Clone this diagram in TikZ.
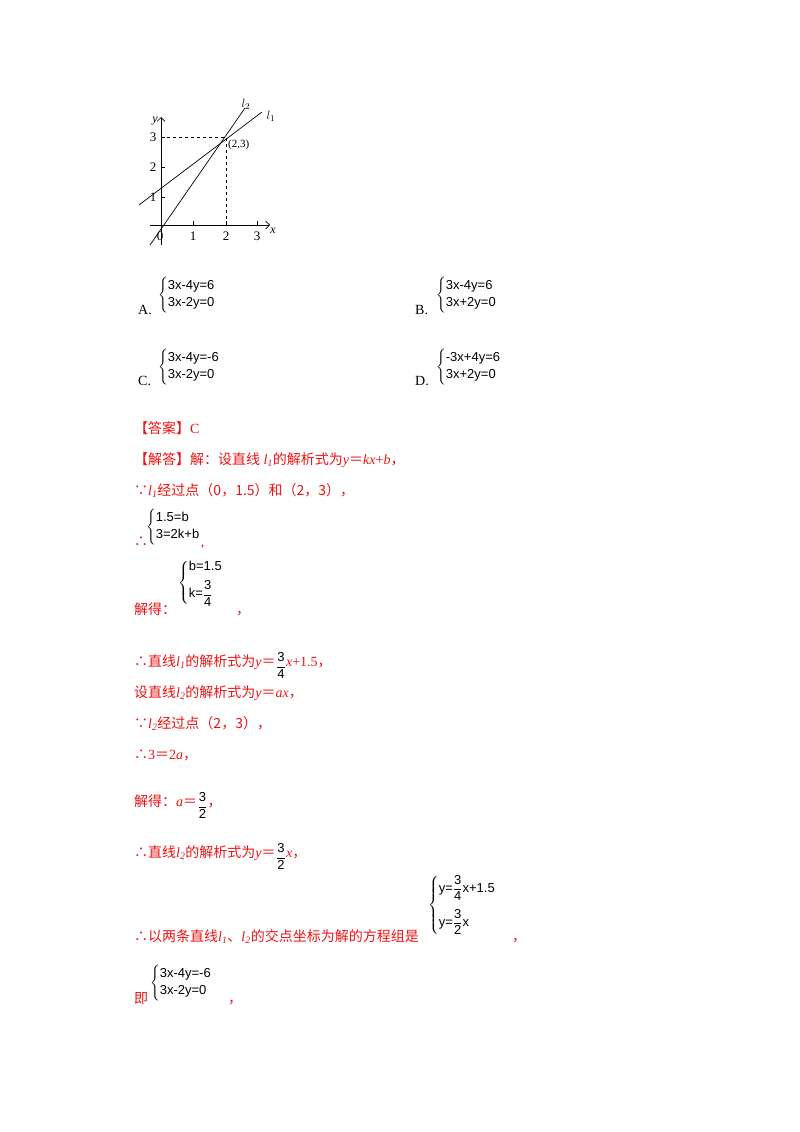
\documentclass[tikz,border=0pt]{standalone}
\usepackage{amsmath}
\usepackage{fontspec}
\setmainfont{Liberation Serif}
\newfontfamily\cjk{Noto Sans CJK SC}
\newfontfamily\eqf{Liberation Sans}
\usetikzlibrary{arrows.meta}
\definecolor{ansred}{RGB}{235,20,20}
\tikzset{
 t/.style={anchor=base west,inner sep=0pt,font=\fontsize{14}{16}\selectfont},
 r/.style={t,text=ansred},
 eq/.style={anchor=west,inner sep=0pt,font=\eqf\fontsize{13}{15}\selectfont},
 ax/.style={line width=0.6pt,-{Straight Barb[length=4pt]}},
 ln/.style={line width=0.7pt},
 dsh/.style={dashed,line width=0.5pt},
}
\newcommand{\sysb}[3][2pt]{$\left\{\begin{tabular}{@{}l@{}}#2\\[#1]#3\end{tabular}\right.$}
\newcommand{\fr}[2]{$\dfrac{\text{\eqf #1}}{\text{\eqf #2}}$}
\newcommand{\eqs}{{\cjk ＝}}
\newcommand{\cm}{{\cjk ，}}
\begin{document}
\begin{tikzpicture}[x=1pt,y=-1pt]
\useasboundingbox[fill=white] (0,0) rectangle (800,1132);
% graph
\coordinate (O) at (161,225);
\coordinate (P) at (226,137);
\draw[ax] (150,225) -- (270,225);
\draw[ax] (161,245) -- (161,117);
\foreach \i/\x in {1/193,2/226,3/257} {\draw (\x,225) -- (\x,221); \node[font=\fontsize{13}{15}\selectfont,inner sep=0pt] at (\x,236) {\i};}
\foreach \j/\y in {1/197,2/167,3/137} {\draw (161,\y) -- (165,\y); \node[font=\fontsize{13}{15}\selectfont,inner sep=0pt] at (153,\y) {\j};}
\node[font=\fontsize{13}{15}\selectfont,inner sep=0pt] at (160,236) {0};
\node[font=\itshape\fontsize{12}{14}\selectfont,inner sep=0pt] at (273,231) {x};
\node[font=\itshape\fontsize{12}{14}\selectfont,inner sep=0pt] at (155,121) {y};
\draw[dsh] (161,137) -- (P) -- (226,225);
\draw[ln] (139,205) -- (262,112);
\draw[ln] (150,245) -- (245,108);
\node[font=\fontsize{11}{13}\selectfont,inner sep=0pt,anchor=west] at (228,145) {(2,3)};
\node[font=\fontsize{13}{15}\selectfont,inner sep=0pt] at (246,104) {$l_2$};
\node[font=\fontsize{13}{15}\selectfont,inner sep=0pt] at (271,116) {$l_1$};
% options
\node[t] (A) at (138,314) {A.};
\node[eq] (As) at (158,295) {\sysb{3x-4y=6}{3x-2y=0}};
\node[t] (B) at (415,314) {B.};
\node[eq] (Bs) at (436,295) {\sysb{3x-4y=6}{3x+2y=0}};
\node[t] (C) at (138,385) {C.};
\node[eq] (Cs) at (158,367) {\sysb{3x-4y=-6}{3x-2y=0}};
\node[t] (D) at (415,385) {D.};
\node[eq] (Ds) at (436,367) {\sysb{-3x+4y=6}{3x+2y=0}};
% solution
\node[r] (a1) at (134,433) {\cjk【答案】\rmfamily C};
\node[r] (a2) at (134,464) {\cjk【解答】解：设直线\rmfamily\itshape~l\textsubscript{1}\cjk\upshape 的解析式为\rmfamily\itshape y\upshape\eqs\itshape kx\upshape+\itshape b\upshape\cm};
\node[r] (a3) at (134,495) {\cjk ∵\rmfamily\itshape l\textsubscript{1}\cjk\upshape 经过点（0，1.5）和（2，3），};
\node[r] (a4) at (134,546) {\cjk ∴};
\node[eq] (s1) at (146,527) {\sysb{1.5=b}{3=2k+b}};
\node[r] at (s1.east|-a4.base) [anchor=base west] {,};
\node[r] (a5) at (134,614) {\cjk 解得：};
\node[eq] (s2) at (178,583) {\sysb[6pt]{b=1.5}{k=\fr{3}{4}}};
\node[r] at (236,614) {\cm};
\node[r] (a6) at (134,666) {\cjk ∴直线\rmfamily\itshape l\textsubscript{1}\cjk\upshape 的解析式为\rmfamily\itshape y\upshape\eqs};
\node[eq,anchor=base west] (f1) at ([yshift=-4pt]a6.base east) {\fr{3}{4}};
\node[r] at (f1.east|-a6.base) {\rmfamily\itshape x\upshape+1.5\cm};
\node[r] (a7) at (134,697) {\cjk 设直线\rmfamily\itshape l\textsubscript{2}\cjk\upshape 的解析式为\rmfamily\itshape y\upshape\eqs\itshape ax\upshape\cm};
\node[r] (a8) at (134,728) {\cjk ∵\rmfamily\itshape l\textsubscript{2}\cjk\upshape 经过点（2，3），};
\node[r] (a9) at (134,759) {\cjk ∴\rmfamily 3\eqs 2\itshape a\upshape\cm};
\node[r] (a10) at (134,806) {\cjk 解得：\rmfamily\itshape a\upshape\eqs};
\node[eq,anchor=base west] (f2) at ([yshift=-4pt]a10.base east) {\fr{3}{2}};
\node[r] at (f2.east|-a10.base) {\cm};
\node[r] (a11) at (134,857) {\cjk ∴直线\rmfamily\itshape l\textsubscript{2}\cjk\upshape 的解析式为\rmfamily\itshape y\upshape\eqs};
\node[eq,anchor=base west] (f3) at ([yshift=-4pt]a11.base east) {\fr{3}{2}};
\node[r] at (f3.east|-a11.base) {\rmfamily\itshape x\upshape\cm};
\node[r] (a12) at (134,941) {\cjk ∴以两条直线\rmfamily\itshape l\textsubscript{1}\cjk\upshape 、\rmfamily\itshape l\textsubscript{2}\cjk\upshape 的交点坐标为解的方程组是};
\node[eq] (s3) at (428,905) {\sysb[12pt]{y=\fr{3}{4}x+1.5}{y=\fr{3}{2}x}};
\node[r] at (512,941) {\cm};
\node[r] (a13) at (134,1003) {\cjk 即};
\node[eq] (s4) at (150,983) {\sysb{3x-4y=-6}{3x-2y=0}};
\node[r] at (228,1003) {\cm};
\end{tikzpicture}
\end{document}
